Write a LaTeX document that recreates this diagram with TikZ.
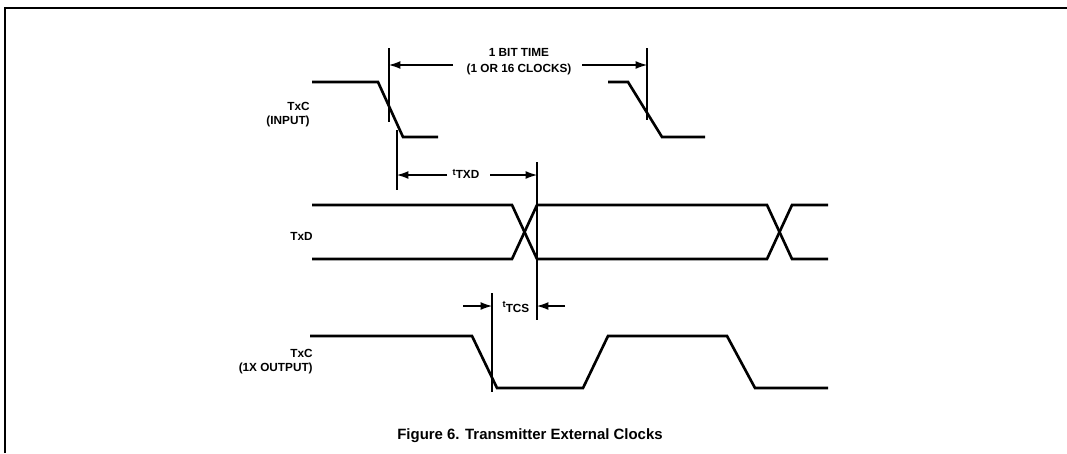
\documentclass[tikz,border=0pt]{standalone}
\usepackage{fontspec}
\setmainfont{Liberation Sans}
\usetikzlibrary{arrows.meta}
\begin{document}
\begin{tikzpicture}[x=0.02cm,y=-0.02cm,
  wave/.style={line width=1.5pt, line join=miter},
  dimline/.style={line width=0.6pt},
  arr/.style={line width=0.6pt,-{Latex[length=6.5pt,width=4.5pt]}},
  lbl/.style={font=\fontsize{6.7}{8}\selectfont\bfseries, inner sep=0pt, align=right},
  ctr/.style={font=\fontsize{6.7}{9.2}\selectfont\bfseries, inner sep=0pt, align=center},
  captionstyle/.style={font=\fontsize{8.5}{9}\selectfont\bfseries, inner sep=0pt}]
\useasboundingbox (0,0) rectangle (1067,453);
% frame
\draw[line width=1.1pt] (5,453) -- (5,8) -- (1067,8);

% signal labels
\node[lbl, anchor=east] (lin) at (310,115) {TxC\\(INPUT)};
\node[lbl, anchor=east] (ltxd) at (313,236) {TxD};
\node[lbl, anchor=east] (lout) at (313,362) {TxC\\(1X OUTPUT)};

% TxC input waveform
\draw[wave] (312,82) -- (378,82) -- (403,137) -- (438,137);
\draw[wave] (608,82) -- (628,82) -- (662,137) -- (705,137);

% TxD waveform
\draw[wave] (312,205) -- (512,205) -- (537,259) -- (767,259) -- (792,205) -- (828,205);
\draw[wave] (312,259) -- (512,259) -- (537,205) -- (767,205) -- (792,259) -- (828,259);

% TxC output waveform
\draw[wave] (310,336) -- (472,336) -- (497,388) -- (583,388) -- (608,336) -- (727,336) -- (755,388) -- (828,388);

% vertical reference lines
\draw[dimline] (389,48) -- (389,122);
\draw[dimline] (397,130) -- (397,190);
\draw[dimline] (647,48) -- (647,120);
\draw[dimline] (537,162) -- (537,320);
\draw[dimline] (492,293) -- (492,392);

% 1 bit time
\node[ctr] (bit) at (519,62) {1 BIT TIME\\(1 OR 16 CLOCKS)};
\coordinate (bitL) at (453,65);
\coordinate (bitR) at (582,65);
\coordinate (v1) at (389,65);
\coordinate (v2) at (647,65);
\draw[arr] (bitL) -- (v1);
\draw[arr] (bitR) -- (v2);

% tTXD
\node[ctr] (txd) at (466,174) {\raisebox{2pt}{\fontsize{5.3}{5}\selectfont t}TXD};
\coordinate (txdL) at (447,175);
\coordinate (txdR) at (490,175);
\coordinate (v3) at (397,175);
\coordinate (v4) at (537,175);
\draw[arr] (txdL) -- (v3);
\draw[arr] (txdR) -- (v4);

% tTCS
\node[ctr] (tcs) at (516,307) {\raisebox{3pt}{\fontsize{5.3}{5}\selectfont t}TCS};
\coordinate (tcsL) at (463,306);
\coordinate (tcsR) at (565,306);
\coordinate (v5) at (492,306);
\coordinate (v6) at (537,306);
\draw[arr] (tcsL) -- (v5);
\draw[arr] (tcsR) -- (v6);

% caption
\node[captionstyle] (caption) at (530,436) {Figure 6. Transmitter External Clocks};
\end{tikzpicture}
\end{document}
